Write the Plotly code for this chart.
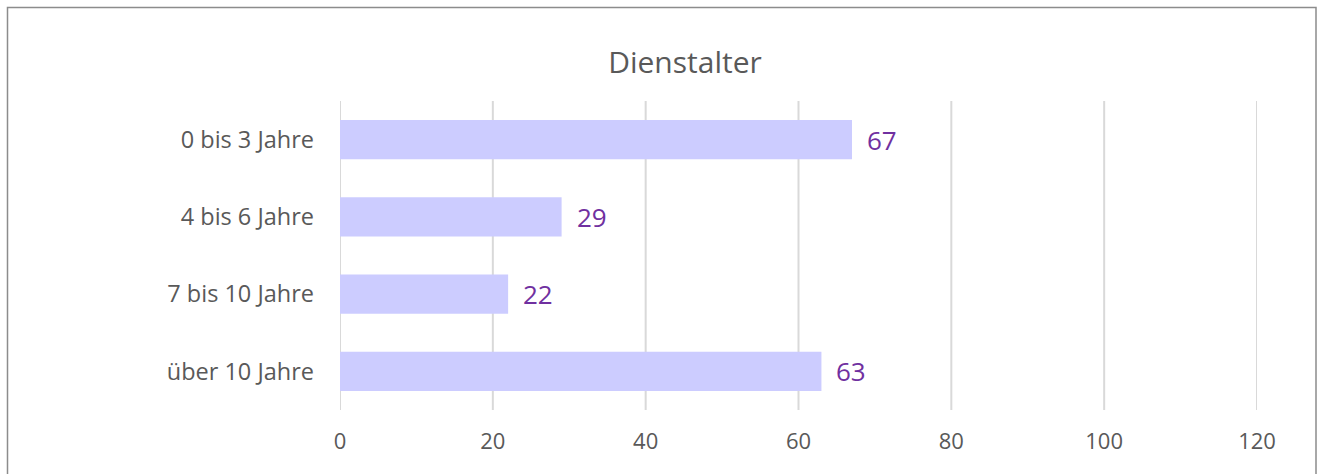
import plotly.graph_objects as go

categories = ["0 bis 3 Jahre", "4 bis 6 Jahre", "7 bis 10 Jahre", "über 10 Jahre"]
values = [67, 29, 22, 63]
x_ticks = [0, 20, 40, 60, 80, 100, 120]

W, H = 1319, 474
L, R, T, B = 340, 1257, 101, 410
FONT = "Open Sans, sans-serif"

fig = go.Figure()
fig.add_trace(go.Bar(
    y=categories, x=values, orientation="h",
    marker=dict(color="#CCCCFF", line=dict(width=0)),
    hoverinfo="skip",
))

for c, v in zip(categories, values):
    fig.add_annotation(x=v, y=c, text=str(v), showarrow=False, xanchor="left",
                       xshift=13, yshift=0,
                       font=dict(family=FONT, size=26, color="#7030A0"))

for t in x_ticks:
    fig.add_shape(type="line", xref="x", yref="paper", x0=t, x1=t, y0=0, y1=1,
                  line=dict(color="#D9D9D9", width=2), layer="below")

pw = R - L
ph = B - T
fig.add_shape(type="rect", xref="paper", yref="paper",
              x0=(7.5 - L) / pw, x1=(1316 - L) / pw,
              y0=(B - 500) / ph, y1=(B - 7.5) / ph,
              line=dict(color="#8c8c8c", width=1.5), fillcolor="rgba(0,0,0,0)", layer="below")

fig.update_layout(
    width=W, height=H,
    margin=dict(l=L, r=W - R, t=T, b=H - B, pad=0),
    paper_bgcolor="white", plot_bgcolor="white",
    title=dict(text="Dienstalter", x=685 / W, xanchor="center", y=1 - 62 / H, yanchor="middle",
               font=dict(family=FONT, size=30, color="#595959")),
    bargap=0.49,
    showlegend=False,
    font=dict(family=FONT, color="#595959"),
)
fig.update_xaxes(range=[0, 120], tickvals=x_ticks, showgrid=False,
                 zeroline=False, showline=False, ticks="", ticklabelstandoff=16,
                 tickfont=dict(size=22, color="#595959"))
fig.update_yaxes(categoryorder="array", categoryarray=categories, range=[3.5, -0.5],
                 showgrid=False, zeroline=False, showline=False, ticks="", ticklabelstandoff=25,
                 tickfont=dict(size=23.5, color="#595959"))
fig.write_html("out.html", config={"displayModeBar": False},
               post_script="document.body.style.margin='0';document.body.style.overflow='hidden';")
